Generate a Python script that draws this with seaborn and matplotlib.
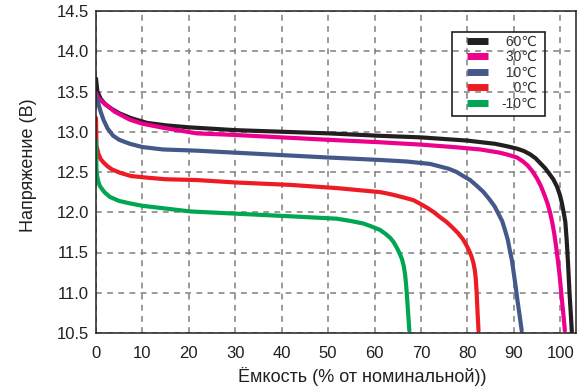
import numpy as np
import pandas as pd
import matplotlib
matplotlib.use("Agg")
import matplotlib.pyplot as plt
from matplotlib.lines import Line2D
from matplotlib.patches import Rectangle
import seaborn as sns

# ---- data ----
x_60 = [0, 0.3, 1, 2, 3.5, 5, 7.5, 11, 15, 20, 30, 40, 50, 61, 70, 80, 86, 88.5, 90.7,
        92.2, 93.5, 94.7, 95.7, 96.7, 97.5, 98.5, 99.3, 99.9, 100.3, 100.8, 101.1,
        101.4, 101.7, 102.0, 102.3, 102.5]
y_60 = [13.66, 13.50, 13.41, 13.34, 13.28, 13.23, 13.17, 13.11, 13.08, 13.055, 13.02,
        13.0, 12.98, 12.95, 12.93, 12.89, 12.85, 12.82, 12.79, 12.76, 12.72, 12.67,
        12.61, 12.55, 12.49, 12.41, 12.32, 12.22, 12.13, 11.98, 11.88, 11.65, 11.35,
        11.0, 10.72, 10.52]

x_30 = [0, 0.5, 1.2, 2.3, 4, 7.3, 10, 14.4, 21.7, 30, 40, 50, 61, 70, 77, 82.8, 87, 89,
        90.7, 92, 93, 94, 95, 95.8, 96.5, 97.2, 97.8, 98.3, 98.7, 99.1, 99.5, 99.9,
        100.3, 100.7, 101]
y_30 = [13.48, 13.42, 13.38, 13.33, 13.25, 13.15, 13.10, 13.05, 12.98, 12.96, 12.93,
        12.90, 12.87, 12.84, 12.81, 12.78, 12.74, 12.71, 12.68, 12.63, 12.58, 12.51,
        12.42, 12.33, 12.23, 12.12, 12.0, 11.87, 11.74, 11.58, 11.4, 11.2, 10.95,
        10.72, 10.53]

x_10 = [0, 0.4, 1, 1.6, 2.5, 3.7, 5, 7.3, 10, 14.4, 21.7, 30, 40, 50, 61, 67, 72, 74,
        76, 77.7, 79.1, 80.6, 82, 83.5, 84.9, 85.9, 86.7, 87.5, 88.1, 88.7, 89.1, 89.6,
        89.9, 90.4, 90.8, 91.3, 91.7]
y_10 = [13.45, 13.37, 13.25, 13.15, 13.04, 12.95, 12.90, 12.85, 12.81, 12.78, 12.765,
        12.74, 12.71, 12.68, 12.65, 12.63, 12.60, 12.57, 12.54, 12.50, 12.45, 12.40,
        12.33, 12.25, 12.15, 12.07, 11.98, 11.89, 11.78, 11.66, 11.54, 11.40, 11.28,
        11.08, 10.9, 10.7, 10.53]

x_0 = [0, 0.05, 0.1, 0.5, 1, 1.6, 2.5, 3.5, 5.2, 7.5, 10.9, 15, 21.7, 30, 41.8, 51.9,
       61.2, 63, 64.5, 66.5, 68.4, 70, 71.5, 72.8, 74.1, 75.5, 76.8, 78, 79.1, 79.8,
       80.4, 80.9, 81.3, 81.6, 81.8, 82.0, 82.2, 82.4]
y_0 = [13.17, 12.98, 12.83, 12.73, 12.66, 12.62, 12.57, 12.53, 12.49, 12.45, 12.43,
       12.41, 12.40, 12.37, 12.34, 12.30, 12.25, 12.23, 12.21, 12.18, 12.15, 12.10,
       12.05, 12.0, 11.94, 11.88, 11.81, 11.74, 11.66, 11.59, 11.52, 11.45, 11.37,
       11.28, 11.18, 11.0, 10.75, 10.53]

x_m10 = [0, 0.05, 0.1, 0.3, 0.6, 0.9, 1.8, 3, 5, 7.3, 10, 14.4, 20.3, 31, 41.8, 51.9,
         55, 57.6, 59.5, 61.2, 62.4, 63.4, 64.1, 64.8, 65.4, 65.9, 66.3, 66.6, 66.8,
         67.0, 67.2, 67.5]
y_m10 = [12.88, 12.72, 12.53, 12.43, 12.36, 12.32, 12.25, 12.19, 12.14, 12.11, 12.08,
         12.05, 12.01, 11.98, 11.95, 11.92, 11.89, 11.86, 11.82, 11.78, 11.73, 11.68,
         11.63, 11.56, 11.49, 11.42, 11.33, 11.22, 11.1, 10.95, 10.78, 10.53]

series_labels = ["60℃", "30℃", "10℃", "0℃", "-10℃"]
legend_labels = [" 60℃", " 30℃", " 10℃", "   0℃", "-10℃"]
series_x = [x_60, x_30, x_10, x_0, x_m10]
series_y = [y_60, y_30, y_10, y_0, y_m10]
colors = ["#231f20", "#ec008c", "#44598a", "#ed1c24", "#00a651"]

x_ticks = [0, 10, 20, 30, 40, 50, 60, 70, 80, 90, 100]
y_ticks = [10.5, 11.0, 11.5, 12.0, 12.5, 13.0, 13.5, 14.0, 14.5]

xlabel = "Ёмкость (% от номинальной))"
ylabel = "Напряжение (В)"

# ---- build table ----
frames = []
for lab, xs, ys in zip(series_labels, series_x, series_y):
    frames.append(pd.DataFrame({"x": xs, "y": ys, "t": lab}))
df = pd.concat(frames, ignore_index=True)

sns.set_theme(style="white")
plt.rcParams["font.family"] = ["Liberation Sans", "DejaVu Sans"]

W, H = 587, 392
AX_L, AX_R, AX_T, AX_B = 96, 576, 11, 333
fig = plt.figure(figsize=(W / 100, H / 100), dpi=100)
ax = fig.add_axes([AX_L / W, 1 - AX_B / H, (AX_R - AX_L) / W, (AX_B - AX_T) / H])


def ax_x(px):
    return (px - AX_L) / (AX_R - AX_L)


def ax_y(py):
    return (AX_B - py) / (AX_B - AX_T)


ax.set_xlim(0, 103.4)
ax.set_ylim(10.5, 14.5)
ax.set_xticks(x_ticks)
ax.set_xticklabels([str(v) for v in x_ticks])
ax.set_yticks(y_ticks)
ax.set_yticklabels([f"{v:.1f}" for v in y_ticks])
ax.grid(True, color="#7f7f7f", linestyle=(0, (3.8, 3.5)), linewidth=1.1)
ax.set_axisbelow(True)

sns.lineplot(data=df, x="x", y="y", hue="t", hue_order=series_labels,
             palette=colors, estimator=None, sort=False, linewidth=3.0,
             legend=False, ax=ax)

for s in ax.spines.values():
    s.set_color("#231f20")
    s.set_linewidth(1.1)
    s.set_visible(True)

ax.tick_params(axis="both", length=0, labelsize=12, colors="#231f20")
ax.tick_params(axis="x", pad=9)
ax.tick_params(axis="y", pad=5)

ax.set_xlabel(xlabel, fontsize=13, color="#231f20")
ax.set_ylabel(ylabel, fontsize=13, color="#231f20")
ax.xaxis.set_label_coords(0.554, -0.105)
ax.yaxis.set_label_coords(-0.122, 0.52)

# legend frame (drawn separately)
ax.add_patch(Rectangle((ax_x(452), ax_y(116)), ax_x(545) - ax_x(452),
                       ax_y(32) - ax_y(116), transform=ax.transAxes,
                       facecolor="none", edgecolor="#231f20", linewidth=1.2,
                       zorder=5))

handles = [Line2D([0], [0], color=c, linewidth=5, solid_capstyle="butt") for c in colors]
leg = ax.legend(handles, legend_labels, loc="upper left",
                bbox_to_anchor=(ax_x(467), ax_y(34.5)),
                borderaxespad=0, frameon=False, borderpad=0,
                fontsize=10, handlelength=1.51, handletextpad=1.0,
                labelspacing=0.11)
for t in leg.get_texts():
    t.set_color("#333333")

fig.savefig("out.png", dpi=100)
